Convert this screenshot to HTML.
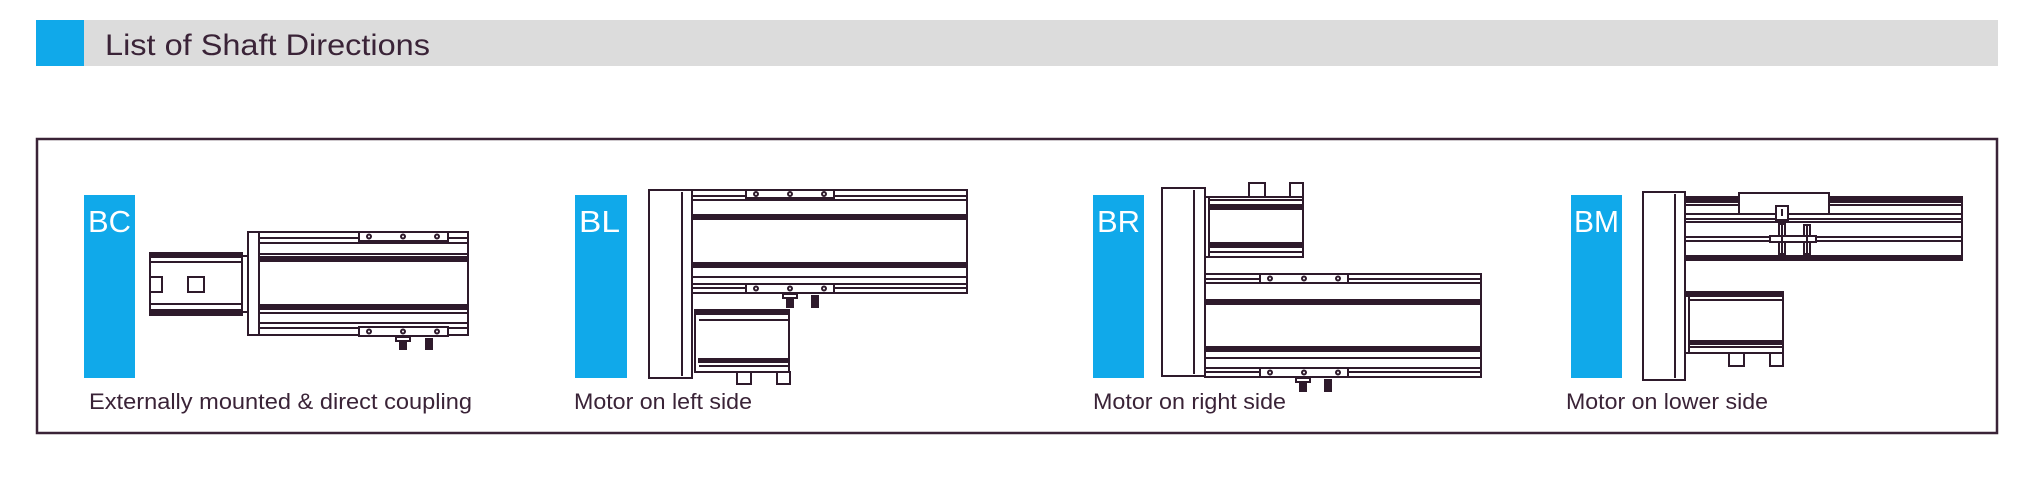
<!DOCTYPE html>
<html><head><meta charset="utf-8"><style>
html,body{margin:0;padding:0;background:#fff;}
svg{display:block;}
text{font-family:"Liberation Sans Narrow","Liberation Sans",sans-serif;}
</style></head><body>
<svg width="2023" height="479" viewBox="0 0 2023 479" xmlns="http://www.w3.org/2000/svg">
<rect x="36" y="20" width="1962" height="46" fill="#dcdcdc"/>
<rect x="36" y="20" width="48" height="46" fill="#10a9ea"/>
<text x="105" y="55" font-size="30" fill="#3a2337" textLength="325" lengthAdjust="spacingAndGlyphs">List of Shaft Directions</text>
<rect x="37" y="139" width="1960" height="294" fill="none" stroke="#3a2337" stroke-width="2.5"/>

<g fill="#10a9ea">
<rect x="84" y="195" width="51" height="183"/>
<rect x="575" y="195" width="52" height="183"/>
<rect x="1093" y="195" width="51" height="183"/>
<rect x="1571" y="195" width="51" height="183"/>
</g>
<g fill="#fff" font-size="31">
<text x="88" y="232" textLength="43" lengthAdjust="spacingAndGlyphs">BC</text>
<text x="579" y="232" textLength="41" lengthAdjust="spacingAndGlyphs">BL</text>
<text x="1097" y="232" textLength="43" lengthAdjust="spacingAndGlyphs">BR</text>
<text x="1574" y="232" textLength="45" lengthAdjust="spacingAndGlyphs">BM</text>
</g>
<g fill="#3a2337" font-size="22">
<text x="89" y="409" textLength="383" lengthAdjust="spacingAndGlyphs">Externally mounted &amp; direct coupling</text>
<text x="574" y="409" textLength="178" lengthAdjust="spacingAndGlyphs">Motor on left side</text>
<text x="1093" y="409" textLength="193" lengthAdjust="spacingAndGlyphs">Motor on right side</text>
<text x="1566" y="409" textLength="202" lengthAdjust="spacingAndGlyphs">Motor on lower side</text>
</g>

<g fill="none" stroke="#2e1a2b" stroke-width="2">
<!-- BC -->
<rect x="150" y="253" width="92" height="62"/>
<rect x="150" y="253" width="92" height="4" fill="#2e1a2b"/>
<line x1="150" y1="262" x2="242" y2="262"/>
<rect x="150" y="310" width="92" height="4" fill="#2e1a2b"/>
<line x1="150" y1="304" x2="242" y2="304"/>
<rect x="150" y="277" width="12" height="15"/>
<rect x="188" y="277" width="16" height="15"/>
<rect x="242" y="256" width="6" height="56"/>
<rect x="248" y="232" width="11" height="103"/>
<rect x="259" y="232" width="209" height="103"/>
<line x1="259" y1="238" x2="468" y2="238"/>
<line x1="259" y1="243" x2="468" y2="243"/>
<line x1="259" y1="254" x2="468" y2="254"/>
<rect x="259" y="257" width="209" height="4" fill="#2e1a2b"/>
<rect x="259" y="305" width="209" height="4" fill="#2e1a2b"/>
<line x1="259" y1="313" x2="468" y2="313"/>
<line x1="259" y1="323" x2="468" y2="323"/>
<line x1="259" y1="328" x2="468" y2="328"/>
<rect x="359" y="232" width="89" height="9" fill="#fff"/>
<circle cx="369" cy="236.5" r="2"/><circle cx="403" cy="236.5" r="2"/><circle cx="437" cy="236.5" r="2"/>
<rect x="359" y="327" width="89" height="9" fill="#fff"/>
<circle cx="369" cy="331.5" r="2"/><circle cx="403" cy="331.5" r="2"/><circle cx="437" cy="331.5" r="2"/>
<rect x="396" y="337" width="14" height="4"/>
<rect x="400" y="341" width="6" height="8" fill="#2e1a2b"/>
<rect x="426" y="339" width="6" height="10" fill="#2e1a2b"/>

<!-- BL -->
<rect x="649" y="190" width="43" height="188"/>
<line x1="682" y1="192" x2="682" y2="376"/>
<rect x="692" y="190" width="275" height="103"/>
<line x1="692" y1="196" x2="967" y2="196"/>
<line x1="692" y1="200" x2="967" y2="200"/>
<rect x="692" y="215" width="275" height="4" fill="#2e1a2b"/>
<rect x="692" y="263" width="275" height="4" fill="#2e1a2b"/>
<line x1="692" y1="277" x2="967" y2="277"/>
<line x1="692" y1="284" x2="967" y2="284"/>
<line x1="692" y1="288" x2="967" y2="288"/>
<rect x="746" y="190" width="88" height="8" fill="#fff"/>
<circle cx="756" cy="194" r="2"/><circle cx="790" cy="194" r="2"/><circle cx="824" cy="194" r="2"/>
<rect x="746" y="284" width="88" height="9" fill="#fff"/>
<circle cx="756" cy="288.5" r="2"/><circle cx="790" cy="288.5" r="2"/><circle cx="824" cy="288.5" r="2"/>
<rect x="783" y="294" width="14" height="4"/>
<rect x="787" y="298" width="6" height="9" fill="#2e1a2b"/>
<rect x="812" y="296" width="6" height="11" fill="#2e1a2b"/>
<rect x="695" y="310" width="94" height="62"/>
<rect x="695" y="310" width="94" height="4" fill="#2e1a2b"/>
<line x1="699" y1="320" x2="789" y2="320"/>
<rect x="699" y="359" width="90" height="3" fill="#2e1a2b"/>
<line x1="699" y1="366" x2="789" y2="366"/>
<rect x="737" y="372" width="14" height="12"/>
<rect x="777" y="372" width="13" height="12"/>

<!-- BR -->
<rect x="1162" y="188" width="43" height="188"/>
<line x1="1194" y1="190" x2="1194" y2="374"/>
<rect x="1205" y="197" width="98" height="60"/>
<line x1="1209" y1="200" x2="1303" y2="200"/>
<rect x="1209" y="205" width="94" height="4" fill="#2e1a2b"/>
<rect x="1209" y="243" width="94" height="4" fill="#2e1a2b"/>
<line x1="1209" y1="252" x2="1303" y2="252"/>
<line x1="1209" y1="197" x2="1209" y2="257"/>
<rect x="1249" y="183" width="16" height="14"/>
<rect x="1290" y="183" width="13" height="14"/>
<rect x="1205" y="274" width="276" height="103"/>
<line x1="1205" y1="279" x2="1481" y2="279"/>
<line x1="1205" y1="283" x2="1481" y2="283"/>
<rect x="1205" y="300" width="276" height="4" fill="#2e1a2b"/>
<rect x="1205" y="347" width="276" height="4" fill="#2e1a2b"/>
<line x1="1205" y1="358" x2="1481" y2="358"/>
<line x1="1205" y1="368" x2="1481" y2="368"/>
<line x1="1205" y1="372" x2="1481" y2="372"/>
<rect x="1260" y="274" width="88" height="9" fill="#fff"/>
<circle cx="1270" cy="278.5" r="2"/><circle cx="1304" cy="278.5" r="2"/><circle cx="1338" cy="278.5" r="2"/>
<rect x="1260" y="368" width="88" height="9" fill="#fff"/>
<circle cx="1270" cy="372.5" r="2"/><circle cx="1304" cy="372.5" r="2"/><circle cx="1338" cy="372.5" r="2"/>
<rect x="1296" y="378" width="14" height="4"/>
<rect x="1300" y="382" width="6" height="9" fill="#2e1a2b"/>
<rect x="1325" y="380" width="6" height="11" fill="#2e1a2b"/>

<!-- BM -->
<rect x="1643" y="192" width="42" height="188"/>
<line x1="1675" y1="194" x2="1675" y2="378"/>
<rect x="1685" y="197" width="277" height="63"/>
<rect x="1685" y="197" width="277" height="5" fill="#2e1a2b"/>
<line x1="1685" y1="205" x2="1962" y2="205"/>
<line x1="1685" y1="214" x2="1962" y2="214"/>
<line x1="1685" y1="219" x2="1962" y2="219"/>
<line x1="1685" y1="222" x2="1962" y2="222"/>
<line x1="1685" y1="237" x2="1962" y2="237"/>
<line x1="1685" y1="241" x2="1962" y2="241"/>
<rect x="1685" y="256" width="277" height="4" fill="#2e1a2b"/>
<rect x="1739" y="193" width="90" height="21" fill="#fff"/>
<rect x="1776" y="206" width="12" height="14" fill="#fff"/>
<line x1="1782" y1="209" x2="1782" y2="216"/>
<rect x="1779" y="220" width="6" height="4"/>
<rect x="1779" y="224" width="6" height="30"/>
<rect x="1804" y="225" width="6" height="29"/>
<rect x="1770" y="236" width="46" height="6" fill="#fff"/>
<line x1="1782" y1="224" x2="1782" y2="254"/>
<line x1="1807" y1="225" x2="1807" y2="254"/>
<rect x="1685" y="292" width="98" height="61"/>
<rect x="1685" y="292" width="98" height="4" fill="#2e1a2b"/>
<line x1="1689" y1="300" x2="1783" y2="300"/>
<rect x="1689" y="341" width="94" height="3" fill="#2e1a2b"/>
<line x1="1689" y1="347" x2="1783" y2="347"/>
<line x1="1689" y1="296" x2="1689" y2="353"/>
<rect x="1729" y="353" width="15" height="13"/>
<rect x="1770" y="353" width="13" height="13"/>
</g>
</svg>
</body></html>
